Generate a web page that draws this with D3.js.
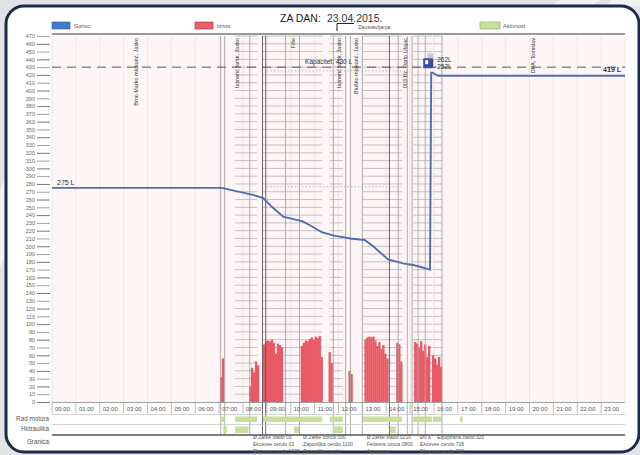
<!DOCTYPE html>
<html><head><meta charset="utf-8">
<script src="https://cdn.jsdelivr.net/npm/d3@7/dist/d3.min.js"></script>
<style>
body{margin:0;background:#e1e3e7;overflow:hidden;}
svg{display:block;font-family:"Liberation Sans",Arial,sans-serif;}
</style>
</head><body>
<svg id="c" width="640" height="455"></svg>
<script>
// ---------- DATA ----------
const titleLabel = "ZA DAN:";
const titleDate = "23.04.2015.";
const hourLabels = ["00:00","01:00","02:00","03:00","04:00","05:00","06:00","07:00","08:00","09:00","10:00","11:00",
  "12:00","13:00","14:00","15:00","16:00","17:00","18:00","19:00","20:00","21:00","22:00","23:00"];
const yTicks = d3.range(0, 471, 10);

const fuelTimes  = ["00:00","07:06","08:25","08:51","09:12","09:41","10:30","10:48","11:18","11:46","12:29","13:06","13:27","14:05","14:42","15:07","15:29","15:50","15:53","15:56","16:10","24:00"];
const fuelValues = [275,275,266,262,251,238,232,227,218,214,210,208,200,183,178,176,173,170,423,423,419,419];

const iznosTimes = ["07:02","07:07",
  "08:15","08:20","08:25","08:30","08:35",
  "08:50","08:55","09:00","09:05","09:10","09:15","09:20","09:25","09:30","09:35",
  "10:25","10:30","10:35","10:40","10:45","10:50","10:55","11:00","11:05","11:10","11:15",
  "11:35","11:40","12:25","12:30",
  "13:05","13:10","13:15","13:20","13:25","13:30","13:35","13:40","13:45","13:50","13:55","14:00",
  "14:25","14:30","14:35",
  "15:10","15:15","15:20","15:25","15:30","15:35","15:40","15:45",
  "15:55","16:00","16:05","16:10","16:15"];
const iznosValues = [32,56,
  20,44,38,52,47,
  74,78,79,78,80,76,62,75,73,70,
  72,76,79,78,81,83,80,84,82,85,58,
  64,50,40,36,
  80,83,84,83,84,79,72,77,68,73,62,56,
  76,74,52,
  77,75,70,78,66,74,58,72,
  60,56,48,58,45];

const stopStarts = ["00:00","07:14","09:47","11:47","12:30","14:30","16:20"];
const stopEnds   = ["07:04","08:17","10:22","12:18","13:00","15:05","24:00"];
const stopLabels = ["Brno Marko mlakarić, Jasko","Iasnerić Iarsk, Jasko","Fiše","Iasnerić Iarsk, Jasko",
  "Biuško mlakarić, Jasko","003 Bz. Darlo Ulajac","DPA, Tomislav"];
const markerTimes = ["08:49","08:57","14:08","14:53","15:20","15:38"];

const radStarts = ["07:02","07:40","08:50","11:38","13:02","15:07","15:57","17:05"];
const radEnds   = ["07:14","08:36","11:19","12:11","14:40","15:55","16:20","17:12"];
const hidStarts = ["07:10","07:40","10:08","11:46","14:09"];
const hidEnds   = ["07:20","08:14","10:21","12:11","14:24"];
const rowLabels = ["Rad motora","Hidraulika","Granica"];

const capacity = 430;
const capacityLabel = "Kapacitet: 430 L";
const startLabel = "275 L";
const endLabel = "419 L";
const refuelTime = "15:53";
const refuelLabels = ["262L","252L"];
const refLevels = [275, 424];

const legendNames = ["Gorivo","Iznos","Zaustavljanja","Aktivnost"];

const noteTimes = ["08:25","10:31","13:11","15:25","16:08"];
const noteRows = [
  ["Ø Zarke stado 03","Ø Zarke conca 030","Ø Zarke stado 0210","Ø0 a","Equipirana casto 320"],
  ["Ekcevee cendo 03","Zaponiljka cendo 1100","Feliwera conca 0800","Ekcevee cendo 728",""],
  ["Ekcevee cendo 1240","Zaponiljka cendo","Aaaaaaaa","Ekcevee cendo 728",""]
];

// ---------- HELPERS ----------
const h = s => { const [a,b] = s.split(":").map(Number); return a + b/60; };

const svg = d3.select("#c");
const x = d3.scaleLinear().domain([0,24]).range([52,625]);
const y = d3.scaleLinear().domain([0,470]).range([402,36]);

// ---------- BACKGROUND / FRAME ----------
svg.append("rect").attr("width",640).attr("height",455).attr("fill","#e1e3e7");
[[[560,0],[600,0],[588,8],[548,8]],[[612,0],[640,0],[640,6],[604,8]],[[0,190],[7,172],[7,250],[0,268]]]
  .forEach(p => svg.append("polygon").attr("points",p.join(" ")).attr("fill","#f1f2f4"));
svg.append("rect").attr("x",6).attr("y",6).attr("width",633).attr("height",446).attr("rx",18)
  .attr("fill","#ffffff").attr("stroke","#1c2b4b").attr("stroke-width",3);

// ---------- TITLE & LEGEND ----------
svg.append("text").attr("x",280).attr("y",22).attr("font-size",10.5).attr("fill","#222").text(titleLabel);
svg.append("text").attr("x",327).attr("y",22).attr("font-size",10.5).attr("fill","#333").text(titleDate);

const lg = svg.append("g").attr("font-size",5.5).attr("fill","#555");
lg.append("rect").attr("x",52).attr("y",22).attr("width",18).attr("height",7).attr("fill","#3f7ccc").attr("stroke","#2b5c9a").attr("stroke-width",0.6);
lg.append("text").attr("x",74).attr("y",28).text(legendNames[0]);
lg.append("rect").attr("x",195).attr("y",22).attr("width",18).attr("height",7).attr("fill","#ec5e6c").attr("stroke","#9a3040").attr("stroke-width",0.6);
lg.append("text").attr("x",217).attr("y",28).text(legendNames[1]);
lg.append("path").attr("d","M337,31V23.5H354").attr("stroke","#222").attr("stroke-width",1).attr("fill","none");
lg.append("text").attr("x",358).attr("y",29).text(legendNames[2]);
lg.append("rect").attr("x",480).attr("y",22).attr("width",20).attr("height",7).attr("fill","#c7e09c").attr("stroke","#8aa860").attr("stroke-width",0.6);
lg.append("text").attr("x",503).attr("y",28).text(legendNames[3]);

// ---------- PLOT BACKGROUND ----------
svg.append("rect").attr("x",x(0)).attr("y",y(470)).attr("width",x(24)-x(0)).attr("height",y(0)-y(470)).attr("fill","#fdf5f6");
svg.append("g").selectAll("line").data(d3.range(0,25)).join("line")
  .attr("x1",d=>x(d)).attr("x2",d=>x(d)).attr("y1",y(470)).attr("y2",y(0))
  .attr("stroke","#f0e2e5").attr("stroke-width",0.8);
svg.append("line").attr("x1",x(0)).attr("x2",x(24)).attr("y1",34).attr("y2",34).attr("stroke","#9a9a9a").attr("stroke-width",2);

// horizontal grid segments during engine activity
const gseg = [];
radStarts.forEach((s,i) => { if (h(radEnds[i]) - h(s) > 0.3) gseg.push([h(s), h(radEnds[i])]); });
const gg = svg.append("g").attr("stroke","#b4b4b4").attr("stroke-width",0.8);
gseg.forEach(sg => {
  gg.selectAll(null).data(yTicks.filter(v=>v>0)).join("line")
    .attr("x1",x(sg[0])).attr("x2",x(sg[1])).attr("y1",d=>y(d)).attr("y2",d=>y(d));
});

// dotted reference levels
svg.append("g").selectAll("line").data(refLevels).join("line")
  .attr("x1",x(9.0)).attr("x2",x(14.6)).attr("y1",d=>y(d)-1).attr("y2",d=>y(d)-1)
  .attr("stroke","#999").attr("stroke-width",0.7).attr("stroke-dasharray","1.5,2");

// ---------- Y AXIS ----------
const yAxis = svg.append("g").attr("transform","translate(50,0)")
  .call(d3.axisLeft(y).tickValues(yTicks).tickSize(13).tickPadding(2));
yAxis.select(".domain").remove();
yAxis.selectAll(".tick line").attr("stroke",(d,i)=> i%2 ? "#8a8a8a" : "#555").attr("stroke-width",0.8);
yAxis.selectAll(".tick text").attr("font-size",5.5).attr("fill","#666").attr("font-family","Liberation Sans, Arial, sans-serif");

// ---------- IZNOS BARS ----------
const bw = x(5/60) - x(0);
svg.append("g").selectAll("rect").data(iznosTimes).join("rect")
  .attr("x",d=>x(h(d))).attr("width",bw+0.3)
  .attr("y",(d,i)=>y(iznosValues[i])).attr("height",(d,i)=>y(0)-y(iznosValues[i]))
  .attr("fill","#ea5963");

// ---------- STOPS ----------
const bounds = [];
stopStarts.forEach((s,i)=>{ if (h(s)>0) bounds.push(h(s)); if (h(stopEnds[i])<24) bounds.push(h(stopEnds[i])); });
svg.append("g").selectAll("line").data(bounds).join("line")
  .attr("x1",d=>x(d)).attr("x2",d=>x(d)).attr("y1",36).attr("y2",435)
  .attr("stroke","#a3a3a3").attr("stroke-width",0.9);
svg.append("g").selectAll("line").data(markerTimes).join("line")
  .attr("x1",d=>x(h(d))).attr("x2",d=>x(h(d))).attr("y1",36).attr("y2",435)
  .attr("stroke",(d,i)=> i<3 ? "#555" : "#aaa").attr("stroke-width",0.9);
svg.append("g").selectAll("text").data(stopLabels).join("text")
  .attr("transform",(d,i)=>`translate(${x((h(stopStarts[i])+h(stopEnds[i]))/2)+2},38) rotate(-90)`)
  .attr("text-anchor","end").attr("font-size",5.5).attr("fill","#333").text(d=>d);

// ---------- CAPACITY ----------
svg.append("line").attr("x1",x(0)).attr("x2",x(24)).attr("y1",y(capacity)).attr("y2",y(capacity))
  .attr("stroke","#444").attr("stroke-width",0.9).attr("stroke-dasharray","9,6");
svg.append("text").attr("x",x(10.6)).attr("y",y(capacity)-3).attr("font-size",6.5).attr("fill","#333").text(capacityLabel);

// ---------- FUEL LINE ----------
const line = d3.line().x(d=>x(h(d))).y((d,i)=>y(fuelValues[i]));
svg.append("path").datum(fuelTimes).attr("d",line).attr("fill","none")
  .attr("stroke","#4d6fb3").attr("stroke-width",1.9);
svg.append("text").attr("x",x(0)+5).attr("y",y(fuelValues[0])-3).attr("font-size",7).attr("fill","#333").text(startLabel);
svg.append("text").attr("x",x(24)-4).attr("y",y(fuelValues[fuelValues.length-1])-4).attr("text-anchor","end")
  .attr("font-size",7).attr("font-weight","bold").attr("fill","#333").text(endLabel);

// refuel icon
const rx = x(h(refuelTime));
const ic = svg.append("g");
ic.append("rect").attr("x",rx-4).attr("y",y(capacity)-14).attr("width",6).attr("height",5).attr("fill","#c9cde0");
ic.append("rect").attr("x",rx-8).attr("y",y(capacity)-9).attr("width",10).attr("height",10).attr("rx",1).attr("fill","#3b4fa0");
ic.append("rect").attr("x",rx-6).attr("y",y(capacity)-7).attr("width",3).attr("height",4).attr("fill","#fff");
svg.append("g").selectAll("text").data(refuelLabels).join("text")
  .attr("x",rx+6).attr("y",(d,i)=>y(capacity)-5+i*7).attr("font-size",6.5).attr("fill","#333").text(d=>d);

// ---------- HOUR STRIP ----------
const hs = svg.append("g");
hs.append("line").attr("x1",x(0)).attr("x2",x(24)).attr("y1",402.5).attr("y2",402.5).attr("stroke","#888").attr("stroke-width",0.8);
hs.selectAll("line.t").data(hourLabels).join("line").attr("class","t")
  .attr("x1",(d,i)=>x(i)).attr("x2",(d,i)=>x(i)).attr("y1",403).attr("y2",413.5).attr("stroke","#aaa").attr("stroke-width",0.8);
hs.selectAll("text").data(hourLabels).join("text")
  .attr("x",(d,i)=>x(i)+3).attr("y",411).attr("font-size",6).attr("fill","#555").text(d=>d);

// ---------- ACTIVITY ROWS ----------
const rows = svg.append("g");
[414.5,424.5].forEach(v => rows.append("line").attr("x1",x(0)).attr("x2",x(24)).attr("y1",v).attr("y2",v).attr("stroke","#c8c8c8").attr("stroke-width",0.8));
rows.append("line").attr("x1",x(0)).attr("x2",x(24)).attr("y1",435).attr("y2",435).attr("stroke","#555").attr("stroke-width",1.4);
rows.selectAll("rect.r").data(radStarts).join("rect").attr("class","r")
  .attr("x",d=>x(h(d))).attr("width",(d,i)=>x(h(radEnds[i]))-x(h(d))).attr("y",416.5).attr("height",5.5).attr("fill","#c7e09c");
rows.selectAll("rect.hd").data(hidStarts).join("rect").attr("class","hd")
  .attr("x",d=>x(h(d))).attr("width",(d,i)=>x(h(hidEnds[i]))-x(h(d))).attr("y",426.5).attr("height",6.5).attr("fill","#c7e09c");
rows.selectAll("text").data(rowLabels).join("text")
  .attr("x",49).attr("y",(d,i)=>[421,431,444][i]).attr("text-anchor","end").attr("font-size",6.3).attr("fill","#555").text(d=>d);

// ---------- NOTES ----------
const nt = svg.append("g").attr("font-size",5).attr("fill","#555");
noteRows.forEach((row,r) => {
  row.forEach((t,c) => { if (t) nt.append("text").attr("x",x(h(noteTimes[c]))).attr("y",439+r*7).text(t); });
});
</script>
</body></html>
